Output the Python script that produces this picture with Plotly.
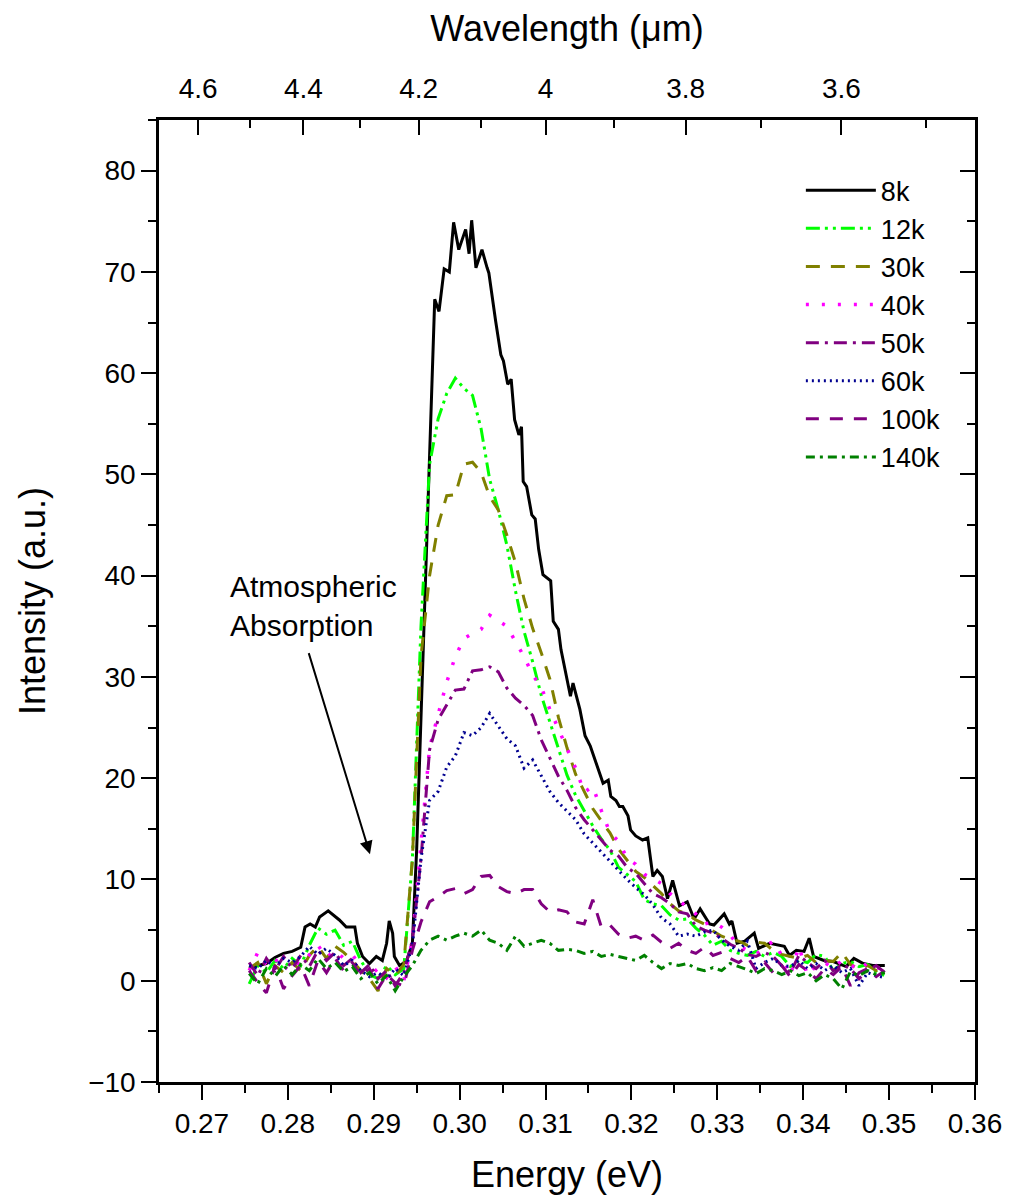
import plotly.graph_objects as go

# ---------------- data ----------------
energy = [0.2755, 0.2765, 0.2775, 0.2785, 0.2795, 0.2805, 0.2815, 0.2825, 0.2835, 0.2845,
          0.2855, 0.2865, 0.2875, 0.2885, 0.2895, 0.2905, 0.2915, 0.2925, 0.2935, 0.2945,
          0.2955, 0.2965, 0.2975, 0.2985, 0.2995, 0.3005, 0.3015, 0.3025, 0.3035, 0.3045,
          0.3055, 0.3065, 0.3075, 0.3085, 0.3095, 0.3105, 0.3115, 0.3125, 0.3135, 0.3145,
          0.3155, 0.3165, 0.3175, 0.3185, 0.3195, 0.3205, 0.3215, 0.3225, 0.3235, 0.3245,
          0.3255, 0.3265, 0.3275, 0.3285, 0.3295, 0.3305, 0.3315, 0.3325, 0.3335, 0.3345,
          0.3355, 0.3365, 0.3375, 0.3385, 0.3395, 0.3405, 0.3415, 0.3425, 0.3435, 0.3445,
          0.3455, 0.3465, 0.3475, 0.3485, 0.3495]

# 8k is read more finely (its noisy peak is clearly visible)
energy_8k = [0.2755, 0.2765, 0.2775, 0.2785, 0.2795, 0.2805, 0.2815, 0.2820, 0.2826, 0.2832,
             0.2837, 0.2847, 0.2855, 0.2860, 0.2868, 0.2878, 0.2881, 0.2887, 0.2895, 0.2903,
             0.2910, 0.2915, 0.2918, 0.2922, 0.2924, 0.2930, 0.2938, 0.2945, 0.2950, 0.2955,
             0.2960, 0.2965, 0.2971, 0.2976, 0.2982, 0.2988, 0.2993, 0.2999, 0.3007, 0.3011,
             0.3014, 0.3019, 0.3026, 0.3032, 0.3034, 0.3042, 0.3048, 0.3051, 0.3056, 0.3060,
             0.3064, 0.3069, 0.3072, 0.3074, 0.3078, 0.3084, 0.3088, 0.3092, 0.3097, 0.3106,
             0.3109, 0.3115, 0.3118, 0.3129, 0.3132, 0.3140, 0.3146, 0.3152, 0.3158, 0.3167,
             0.3173, 0.3176, 0.3182, 0.3186, 0.3190, 0.3196, 0.3199, 0.3205, 0.3213, 0.3219,
             0.3225, 0.3230, 0.3236, 0.3242, 0.3248, 0.3256, 0.3265, 0.3273, 0.3280, 0.3291,
             0.3296, 0.3308, 0.3314, 0.3317, 0.3323, 0.3332, 0.3343, 0.3348, 0.3361, 0.3373,
             0.3378, 0.3384, 0.3392, 0.3401, 0.3407, 0.3412, 0.3424, 0.3435, 0.3450, 0.3459,
             0.3470, 0.3481, 0.3495]
i_8k = [1.3, 1.5, 1.7, 2.3, 2.7, 2.9, 3.3, 5.3, 5.6, 5.3,
        6.3, 6.9, 6.3, 6.0, 5.3, 5.3, 3.7, 2.4, 1.7, 2.4,
        2.0, 3.7, 5.9, 4.7, 2.4, 1.5, 1.9, 3.7, 13, 26,
        40, 53, 67.3, 66.1, 70.3, 70.0, 74.9, 72.2, 74.2, 71.8,
        75.1, 70.4, 72.2, 70.4, 69.9, 65.1, 61.8, 61.2, 58.9, 59.4,
        55.4, 53.9, 54.7, 49.3, 48.8, 46.0, 45.6, 42.6, 40.1, 39.5,
        35.5, 34.7, 32.7, 28.1, 29.4, 26.8, 24.2, 23.2, 21.8, 19.5,
        19.8, 18.2, 17.8, 17.2, 17.2, 16.3, 14.9, 14.3, 13.9, 14.1,
        10.3, 10.9, 10.3, 8.1, 9.9, 7.4, 7.8, 6.1, 7.1, 5.6,
        5.5, 6.6, 5.6, 5.9, 3.7, 3.9, 4.7, 3.2, 3.7, 3.5,
        3.4, 2.5, 3.0, 2.9, 4.2, 2.4, 2.0, 1.9, 1.4, 2.2,
        1.7, 1.5, 1.5]

i_12k = [-0.3, 1.5, 0.8, 2.0, 1.2, 2.2, 1.5, 3.5, 5.2, 4.6,
         5.0, 3.5, 3.9, 2.0, 0.6, 0.2, 1.5, 0.6, 1.2, 12,
         35, 51, 55.5, 58, 59.5, 58.5, 57.8, 54.5, 49.5, 46.5,
         43, 38.5, 34.5, 31.5, 28.2, 25.5, 22.8, 20.3, 18.3, 16.8,
         15.3, 14.0, 12.9, 11.2, 10.5, 9.8, 8.0, 7.6, 7.4, 6.5,
         6.0, 6.1, 5.2, 4.5, 3.5, 3.9, 3.0, 2.7, 2.5, 2.9,
         2.4, 2.8, 2.4, 1.4, 2.0, 1.8, 2.6, 2.4, 1.0, 1.7,
         1.9, 1.4, 1.6, 0.9, 0.5]

i_30k = [1.2, 1.8, -0.3, 1.5, 0.8, 1.8, 1.0, 2.5, 3.4, 2.2,
         3.4, 2.8, 2.0, 1.0, 0.2, -1.0, 1.2, 0.5, 1.6, 12,
         32, 40, 45, 47.9, 48.0, 51, 51.2, 50.2, 47.8, 46.5,
         44, 41.3, 37.7, 34.8, 32.4, 29.8, 26.0, 23.0, 20.4, 18.7,
         17.0, 15.8, 14.6, 13, 11.9, 10.8, 10.2, 9.4, 8.6, 7.6,
         6.9, 6.6, 6.0, 5.6, 4.9, 4.4, 4.1, 3.9, 3.5, 3.8,
         3.7, 3.0, 2.6, 2.4, 2.2, 2.5, 1.8, 2.0, 1.9, 2.8,
         1.6, 1.2, 1.5, 1.0, 1.2]

i_40k = [1.0, 2.8, 1.5, 2.2, 1.0, 2.0, 1.6, 2.5, 3.5, 2.3,
         3.0, 2.2, 2.6, 1.4, 0.5, 1.2, 0.3, 1.4, 0.0, 4,
         14, 23, 26.3, 29.5, 32.0, 33.8, 34.3, 34.7, 36.1, 35.5,
         35.0, 33.5, 32.0, 30.2, 29.0, 26.8, 24.8, 22.8, 21.0, 18.6,
         19.2, 16.8, 14.6, 13.8, 12.1, 11.5, 10.5, 10.1, 9.6, 8.6,
         7.9, 7.2, 6.6, 5.6, 5.8, 5.3, 4.5, 3.4, 3.0, 2.6,
         3.3, 3.9, 2.5, 0.5, 3.4, 0.5, 1.5, 1.8, 1.2, 2.0,
         1.6, 1.0, 1.8, 1.2, 1.4]

i_50k = [1.8, 0.5, 2.2, 1.0, 2.4, 1.2, 2.5, 1.4, 3.0, 2.0,
         2.8, 1.5, 2.2, 0.8, 1.6, 0.2, 1.0, -0.5, 0.8, 4,
         12, 22.8, 25.8, 27.2, 28.7, 28.8, 30.6, 30.7, 31.0, 30.5,
         28.9, 27.9, 27.2, 26.2, 23.8, 22.0, 20.2, 18.8, 17.1, 15.9,
         14.9, 13.9, 12.9, 12.3, 11.2, 10.6, 9.6, 8.6, 8.2, 7.6,
         6.8, 6.6, 5.4, 5.0, 4.7, 4.2, 3.6, 3.2, 2.6, 2.4,
         2.8, 2.4, 1.5, 0.8, 2.5, 1.8, 1.2, 2.0, 1.0, 1.6,
         1.2, 0.2, 1.0, 1.5, 0.8]

i_60k = [1.5, 1.2, 2.0, 1.4, 2.2, 1.8, 2.4, 3.4, 2.6, 3.2,
         2.5, 1.5, 2.0, 1.0, 0.4, 0.8, 0.2, 1.2, 0.5, 3.5,
         12, 17.8, 18.7, 21.1, 22.2, 24.5, 24.2, 25.0, 26.4, 25.1,
         23.9, 23.2, 21.0, 21.8, 20.3, 18.7, 17.6, 16.8, 15.9, 14.5,
         13.6, 12.6, 11.8, 10.8, 10.0, 9.2, 8.5, 7.5, 6.2, 5.6,
         4.4, 4.6, 4.4, 4.8, 5.0, 4.0, 3.4, 3.0, 3.9, 1.2,
         1.8, 2.2, 1.5, 1.4, 2.0, 1.2, 1.7, 1.0, 1.5, 0.8,
         1.2, -0.5, 0.8, 0.5, 0.3]

i_100k = [1.0, -0.2, -1.2, 1.5, -0.8, 0.5, 1.5, -0.5, 2.0, 0.8,
          2.2, 1.0, 1.8, 0.5, 1.2, -0.8, 0.6, -0.2, -0.5, 3.0,
          5.8, 7.8, 8.3, 8.9, 9.1, 8.6, 9.0, 10.3, 10.4, 9.3,
          8.8, 8.6, 9.0, 9.0, 7.6, 6.8, 7.0, 6.8, 5.8, 5.6,
          8.0, 5.3, 5.5, 4.6, 4.2, 4.4, 4.0, 4.5, 3.8, 3.2,
          3.7, 3.0, 2.7, 3.3, 2.5, 2.8, 2.2, 1.8, 2.4, 1.0,
          1.8, 0.8, 1.5, 0.4, 1.6, 1.0, 0.2, 1.2, 0.6, 1.4,
          -0.5, 0.8, 1.2, 0.4, 1.0]

i_140k = [0.7, -0.3, 1.2, 0.4, 1.5, 0.6, 1.6, 1.0, 2.2, 1.2,
          1.8, 0.9, 1.4, 0.2, 0.8, -0.3, 0.5, -1.0, 0.4, 1.5,
          3.0, 4.0, 4.4, 4.0, 4.4, 4.7, 4.4, 5.0, 4.0, 3.7,
          3.0, 4.4, 3.4, 3.7, 4.0, 3.7, 3.0, 3.1, 3.0, 2.7,
          2.9, 2.4, 2.6, 2.4, 2.2, 2.0, 2.5, 1.8, 1.2, 1.7,
          1.5, 1.7, 1.2, 1.0, 1.3, 1.0, 1.7, 1.4, 1.1, 0.7,
          1.2, 1.0, 0.6, 1.0, 0.5, 0.8, 0.0, 0.6, 0.2, -0.8,
          0.9, 0.5, 1.0, 0.6, 0.8]

series_names = ["8k", "12k", "30k", "40k", "50k", "60k", "100k", "140k"]
series_x = [energy_8k, energy, energy, energy, energy, energy, energy, energy]
series_values = [i_8k, i_12k, i_30k, i_40k, i_50k, i_60k, i_100k, i_140k]

# wavelength (um) ticks of the top axis
wl_major = [4.6, 4.4, 4.2, 4.0, 3.8, 3.6]
wl_major_text = ["4.6", "4.4", "4.2", "4", "3.8", "3.6"]
wl_minor = [4.5, 4.3, 4.1, 3.9, 3.7, 3.5]

# ---------------- styles ----------------
styles = {
    "8k":   dict(color="#000000", dash="solid", width=3),
    "12k":  dict(color="#00FF00", dash="14px,5px,3px,5px,3px,5px", width=3),
    "30k":  dict(color="#808000", dash="14px,11px", width=3),
    "40k":  dict(color="#FF00FF", dash="3px,13px", width=3.5),
    "50k":  dict(color="#800080", dash="13px,6px,3px,6px", width=3),
    "60k":  dict(color="#000090", dash="2px,4px", width=3),
    "100k": dict(color="#800080", dash="13px,11px", width=3),
    "140k": dict(color="#008000", dash="9px,5px,3px,5px", width=3),
}

FONT = "Arial, 'Liberation Sans', sans-serif"
E_TO_WL = 1.24  # eV*um

fig = go.Figure()
for name, xs, vals in zip(series_names, series_x, series_values):
    fig.add_trace(go.Scatter(x=xs, y=vals, mode="lines", name=name,
                             line=styles[name]))

# dummy trace so that the top / right axes are created
fig.add_trace(go.Scatter(x=[None], y=[None], xaxis="x2", yaxis="y2",
                         showlegend=False, hoverinfo="skip"))

xr = [0.265, 0.36]
yr = [-10, 85]

fig.update_layout(
    width=1006, height=1193,
    margin=dict(l=151, r=35, t=112, b=118),
    paper_bgcolor="white", plot_bgcolor="white",
    font=dict(family=FONT, size=28, color="black"),
    legend=dict(x=0.7866, y=0.952, xanchor="left", yanchor="top",
                font=dict(size=27, family=FONT), bgcolor="rgba(0,0,0,0)",
                itemwidth=70, borderwidth=0),
    xaxis=dict(range=xr, type="linear", tick0=0.27, dtick=0.01, tickformat=".2f",
               ticks="outside", ticklen=15, tickwidth=2, tickcolor="black",
               showline=True, linewidth=2.5, linecolor="black",
               showgrid=False, zeroline=False,
               minor=dict(tick0=0.265, dtick=0.005, ticks="outside", ticklen=8,
                          tickwidth=2, tickcolor="black", showgrid=False),
               title=dict(text="Energy (eV)", font=dict(size=36), standoff=24)),
    yaxis=dict(range=yr, type="linear", tick0=0, dtick=10,
               ticks="outside", ticklen=15, tickwidth=2, tickcolor="black",
               showline=True, linewidth=2.5, linecolor="black",
               showgrid=False, zeroline=False,
               minor=dict(tick0=0, dtick=5, ticks="outside", ticklen=8,
                          tickwidth=2, tickcolor="black", showgrid=False),
               title=dict(text="Intensity (a.u.)", font=dict(size=36), standoff=32)),
    xaxis2=dict(range=xr, type="linear", overlaying="x", side="top", anchor="y",
                tickmode="array", tickvals=[E_TO_WL / w for w in wl_major],
                ticktext=wl_major_text,
                ticks="inside", ticklen=15, tickwidth=2, tickcolor="black",
                ticklabelstandoff=8,
                showline=True, linewidth=2.5, linecolor="black",
                showgrid=False, zeroline=False,
                minor=dict(tickvals=[E_TO_WL / w for w in wl_minor], ticks="inside",
                           ticklen=8, tickwidth=2, tickcolor="black", showgrid=False),
                title=dict(text="Wavelength (\u03bcm)", font=dict(size=36), standoff=22)),
    yaxis2=dict(range=yr, type="linear", overlaying="y", side="right", anchor="x",
                tick0=0, dtick=10, showticklabels=False,
                ticks="inside", ticklen=15, tickwidth=2, tickcolor="black",
                showline=True, linewidth=2.5, linecolor="black",
                showgrid=False, zeroline=False,
                minor=dict(tick0=0, dtick=5, ticks="inside", ticklen=8,
                           tickwidth=2, tickcolor="black", showgrid=False)),
)

fig.add_annotation(x=0.27299, y=40.8, xref="x", yref="y",
                   text="Atmospheric<br>Absorption", showarrow=False,
                   xanchor="left", yanchor="top", align="left",
                   font=dict(size=30, family=FONT, color="black"))
fig.add_annotation(x=0.28956, y=12.5, xref="x", yref="y",
                   ax=0.28238, ay=32.5, axref="x", ayref="y",
                   text="", showarrow=True, arrowhead=2, arrowsize=1.3,
                   arrowwidth=2, arrowcolor="black")

fig.write_html("out.html")
